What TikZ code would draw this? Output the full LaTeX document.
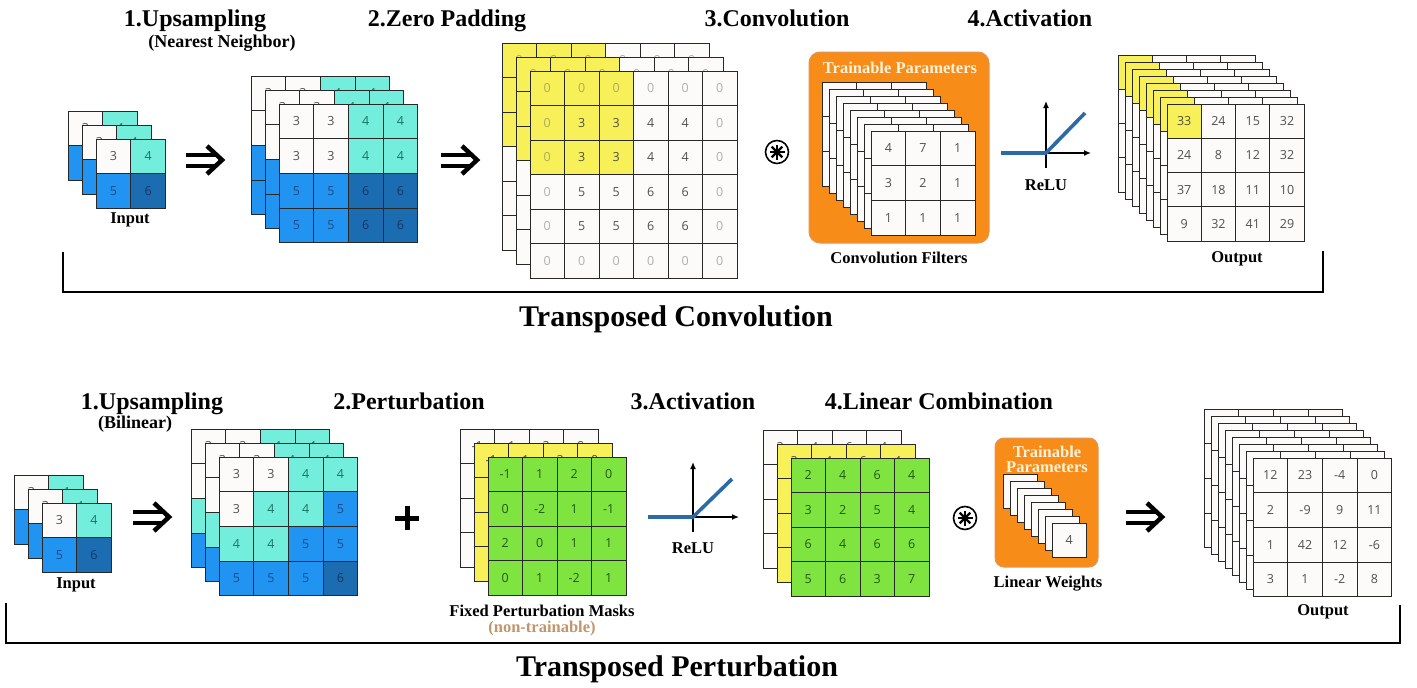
\documentclass[tikz,border=0pt]{standalone}
\usepackage{fontspec}
\setmainfont{Liberation Serif}
\newfontfamily\numfont{Open Sans}
\usetikzlibrary{arrows.meta}
\definecolor{fW}{RGB}{253,251,249}
\definecolor{fZ}{RGB}{253,251,249}
\definecolor{fC}{RGB}{115,238,220}
\definecolor{fB}{RGB}{32,148,240}
\definecolor{fD}{RGB}{28,108,178}
\definecolor{fY}{RGB}{247,240,88}
\definecolor{fYZ}{RGB}{247,240,88}
\definecolor{fG}{RGB}{128,228,64}
\definecolor{tW}{RGB}{80,80,80}
\definecolor{tZ}{RGB}{175,175,175}
\definecolor{tC}{RGB}{25,115,100}
\definecolor{tB}{RGB}{25,75,140}
\definecolor{tD}{RGB}{20,55,100}
\definecolor{tY}{RGB}{80,80,60}
\definecolor{tYZ}{RGB}{175,170,90}
\definecolor{tG}{RGB}{30,90,20}
\definecolor{gridc}{RGB}{40,40,40}
\definecolor{orangebox}{RGB}{247,140,25}
\definecolor{orangeedge}{RGB}{225,150,90}
\definecolor{creamtxt}{RGB}{255,242,218}
\definecolor{relublue}{RGB}{42,106,166}
\definecolor{tantxt}{RGB}{192,150,108}
\newcommand\gridlayer[5]{%
  \foreach \row [count=\ri from 0] in #5 {%
    \foreach \v/\f [count=\ci from 0] in \row {%
      \node[cell, minimum size=#4, fill=f\f, text=t\f] (#1-\ri-\ci) at ({#2+(\ci+0.5)*#4},{#3+(\ri+0.5)*#4}) {\v};
    }
  }
}
\newcommand\bigimplies[3]{%
  \coordinate (#1) at (#2,#3);
  \draw[symb] ([shift={(-18,-5.5)}]#1) -- ([shift={(11,-5.5)}]#1);
  \draw[symb] ([shift={(-18,5.5)}]#1) -- ([shift={(11,5.5)}]#1);
  \draw[symb, line width=4.5, miter limit=10] ([shift={(3,-14)}]#1) -- ([shift={(18,0)}]#1) -- ([shift={(3,14)}]#1);
}
\newcommand\convsym[3]{%
  \node[circle, draw, line width=1.6, minimum size=23, inner sep=0] (#1) at (#2,#3) {};
  \foreach \a in {0,45,...,315} \draw[line width=2.4] (#1.center) -- ++(\a:7.5);
}
\def\dIn{{3/W,4/C},{5/B,6/D}}
\def\dUpA{{3/W,3/W,4/C,4/C},{3/W,3/W,4/C,4/C},{5/B,5/B,6/D,6/D},{5/B,5/B,6/D,6/D}}
\def\dPad{{0/YZ,0/YZ,0/YZ,0/Z,0/Z,0/Z},{0/YZ,3/Y,3/Y,4/W,4/W,0/Z},{0/YZ,3/Y,3/Y,4/W,4/W,0/Z},{0/Z,5/W,5/W,6/W,6/W,0/Z},{0/Z,5/W,5/W,6/W,6/W,0/Z},{0/Z,0/Z,0/Z,0/Z,0/Z,0/Z}}
\def\dFiltBack{{/W,/W,/W},{/W,/W,/W},{/W,/W,/W}}
\def\dFilt{{4/W,7/W,1/W},{3/W,2/W,1/W},{1/W,1/W,1/W}}
\def\dOutBack{{/Y,/W,/W,/W},{/W,/W,/W,/W},{/W,/W,/W,/W},{/W,/W,/W,/W}}
\def\dOut{{33/Y,24/W,15/W,32/W},{24/W,8/W,12/W,32/W},{37/W,18/W,11/W,10/W},{9/W,32/W,41/W,29/W}}
\def\dUpB{{3/W,3/W,4/C,4/C},{3/W,4/C,4/C,5/B},{4/C,4/C,5/B,5/B},{5/B,5/B,5/B,6/D}}
\def\dMaskW{{-1/W,1/W,2/W,0/W},{0/W,-2/W,1/W,-1/W},{2/W,0/W,1/W,1/W},{0/W,1/W,-2/W,1/W}}
\def\dMaskY{{-1/Y,1/Y,2/Y,0/Y},{0/Y,-2/Y,1/Y,-1/Y},{2/Y,0/Y,1/Y,1/Y},{0/Y,1/Y,-2/Y,1/Y}}
\def\dMaskG{{-1/G,1/G,2/G,0/G},{0/G,-2/G,1/G,-1/G},{2/G,0/G,1/G,1/G},{0/G,1/G,-2/G,1/G}}
\def\dLinW{{2/W,4/W,6/W,4/W},{3/W,2/W,5/W,4/W},{6/W,4/W,6/W,6/W},{5/W,6/W,3/W,7/W}}
\def\dLinY{{2/Y,4/Y,6/Y,4/Y},{3/Y,2/Y,5/Y,4/Y},{6/Y,4/Y,6/Y,6/Y},{5/Y,6/Y,3/Y,7/Y}}
\def\dLinG{{2/G,4/G,6/G,4/G},{3/G,2/G,5/G,4/G},{6/G,4/G,6/G,6/G},{5/G,6/G,3/G,7/G}}
\def\dWBack{{/W}}
\def\dW{{4/W}}
\def\dOutTwoBack{{/W,/W,/W,/W},{/W,/W,/W,/W},{/W,/W,/W,/W},{/W,/W,/W,/W}}
\def\dOutB{{12/W,23/W,-4/W,0/W},{2/W,-9/W,9/W,11/W},{1/W,42/W,12/W,-6/W},{3/W,1/W,-2/W,8/W}}
\begin{document}
\begin{tikzpicture}[x=1pt,y=-1pt,
  cell/.style={draw=gridc, line width=0.9, rectangle, inner sep=0, outer sep=0,
    font=\numfont\fontsize{12.5}{14}\selectfont},
  hdr/.style={font=\bfseries\fontsize{24}{24}\selectfont, anchor=base, inner sep=0},
  subhdr/.style={font=\bfseries\fontsize{18}{18}\selectfont, anchor=base, inner sep=0},
  lbl/.style={font=\bfseries\fontsize{16.5}{16.5}\selectfont, anchor=base, inner sep=0},
  ttl/.style={font=\bfseries\fontsize{30}{30}\selectfont, anchor=base, inner sep=0},
  symb/.style={line width=4, line cap=butt},
  axis/.style={line width=1.3, -{Latex[length=7,width=6]}},
  relu/.style={line width=3.6, relublue, line join=round},
  bracket/.style={line width=2.6, line join=miter},
  tbox/.style={fill=orangebox, draw=orangeedge, line width=1}]
\useasboundingbox (0,0) rectangle (1417,688);
\fill[white] (0,0) rectangle (1417,688);

% ===================== TOP: headers
\node[hdr] (h1) at (195,27) {1.Upsampling};
\node[subhdr] (h1s) at (222,47) {(Nearest Neighbor)};
\node[hdr] (h2) at (447,27) {2.Zero Padding};
\node[hdr] (h3) at (777,27) {3.Convolution};
\node[hdr] (h4) at (1030,27) {4.Activation};

% input
\gridlayer{tia}{68}{111}{34.8}{\dIn}
\gridlayer{tib}{82}{125}{34.8}{\dIn}
\gridlayer{tic}{96}{139}{34.8}{\dIn}
\node[lbl] (tinlbl) at (130,223) {Input};

\bigimplies{ta1}{204}{160}

% upsampled
\gridlayer{tua}{251}{76}{34.7}{\dUpA}
\gridlayer{tub}{265}{90}{34.7}{\dUpA}
\gridlayer{tuc}{279}{104}{34.7}{\dUpA}

\bigimplies{ta2}{459}{160}

% zero padding
\gridlayer{tpa}{502}{43}{34.5}{\dPad}
\gridlayer{tpb}{516}{57}{34.5}{\dPad}
\gridlayer{tpc}{530}{71}{34.5}{\dPad}

\convsym{tconv}{777}{152}

% filters
\draw[tbox, rounded corners=11] (809,52) rectangle (989,243);
\node[lbl, text=creamtxt] (tparam) at (900,73) {Trainable Parameters};
\foreach \k in {0,...,6} {\gridlayer{tf\k}{822+\k*7}{82+\k*7}{34.7}{\dFiltBack}}
\gridlayer{tff}{871}{131}{34.7}{\dFilt}
\node[lbl] (tfl) at (899,263) {Convolution Filters};

% relu top
\coordinate (tro) at (1046,153);
\draw[axis] (1003,153) -- (1091,153);
\draw[axis] (1046,168) -- (1046,101);
\draw[relu] (1001,153) -- (tro) -- (1085,113);
\node[lbl] (trl) at (1046,190) {ReLU};

% output top
\foreach \k in {0,...,6} {\gridlayer{to\k}{1118+\k*7}{55+\k*7}{34.3}{\dOutBack}}
\gridlayer{tof}{1167}{104}{34.3}{\dOut}
\node[lbl] (tol) at (1237,262) {Output};

% bracket top
\draw[bracket] (63,252) -- (63,292) -- (1323,292) -- (1323,251);
\node[ttl] (ttitle) at (676,326) {Transposed Convolution};

% ===================== BOTTOM
\node[hdr] (b1) at (152,409) {1.Upsampling};
\node[subhdr] (b1s) at (135,428) {(Bilinear)};
\node[hdr] (b2) at (409,409) {2.Perturbation};
\node[hdr] (b3) at (693,409) {3.Activation};
\node[hdr] (b4) at (939,409) {4.Linear Combination};

\gridlayer{bia}{14}{475}{34.7}{\dIn}
\gridlayer{bib}{28}{489}{34.7}{\dIn}
\gridlayer{bic}{42}{503}{34.7}{\dIn}
\node[lbl] (binlbl) at (76,588) {Input};

\bigimplies{ba1}{151}{517}

\gridlayer{bua}{191}{429}{34.7}{\dUpB}
\gridlayer{bub}{205}{443}{34.7}{\dUpB}
\gridlayer{buc}{219}{457}{34.7}{\dUpB}

% plus
\coordinate (bplus) at (407,518);
\draw[line width=5] ([xshift=-12]bplus) -- ([xshift=12]bplus);
\draw[line width=5] ([yshift=-12]bplus) -- ([yshift=12]bplus);

% masks
\gridlayer{bma}{460}{429}{34.5}{\dMaskW}
\gridlayer{bmb}{474}{443}{34.5}{\dMaskY}
\gridlayer{bmc}{488}{457}{34.5}{\dMaskG}
\node[lbl] (bml) at (542,616) {Fixed Perturbation Masks};
\node[lbl, text=tantxt] (bml2) at (542,632) {(non-trainable)};

% relu bottom
\coordinate (bro) at (693,517);
\draw[axis] (650,517) -- (739,517);
\draw[axis] (693,532) -- (693,462);
\draw[relu] (648,517) -- (bro) -- (732,479);
\node[lbl] (brl) at (693,553) {ReLU};

% linear combination
\gridlayer{bla}{763}{430}{34.5}{\dLinW}
\gridlayer{blb}{777}{444}{34.5}{\dLinY}
\gridlayer{blc}{791}{458}{34.5}{\dLinG}

\convsym{bconv}{965}{518}

\draw[tbox, rounded corners=9] (995,438) rectangle (1098,567);
\node[lbl, text=creamtxt] (bpar1) at (1047,457) {Trainable};
\node[lbl, text=creamtxt] (bpar2) at (1047,472) {Parameters};
\foreach \k in {0,...,6} {\gridlayer{bw\k}{1003+\k*7}{474+\k*7}{34.5}{\dWBack}}
\gridlayer{bwf}{1052}{523}{34.5}{\dW}
\node[lbl] (bwl) at (1048,587) {Linear Weights};

\bigimplies{ba2}{1144}{517}

\foreach \k in {0,...,6} {\gridlayer{bo\k}{1204+\k*7}{409+\k*7}{34.7}{\dOutTwoBack}}
\gridlayer{bof}{1253}{458}{34.7}{\dOutB}
\node[lbl] (bol) at (1323,615) {Output};

\draw[bracket] (6,603) -- (6,643) -- (1400,643) -- (1400,605);
\node[ttl] (btitle) at (677,676) {Transposed Perturbation};
\end{tikzpicture}
\end{document}
